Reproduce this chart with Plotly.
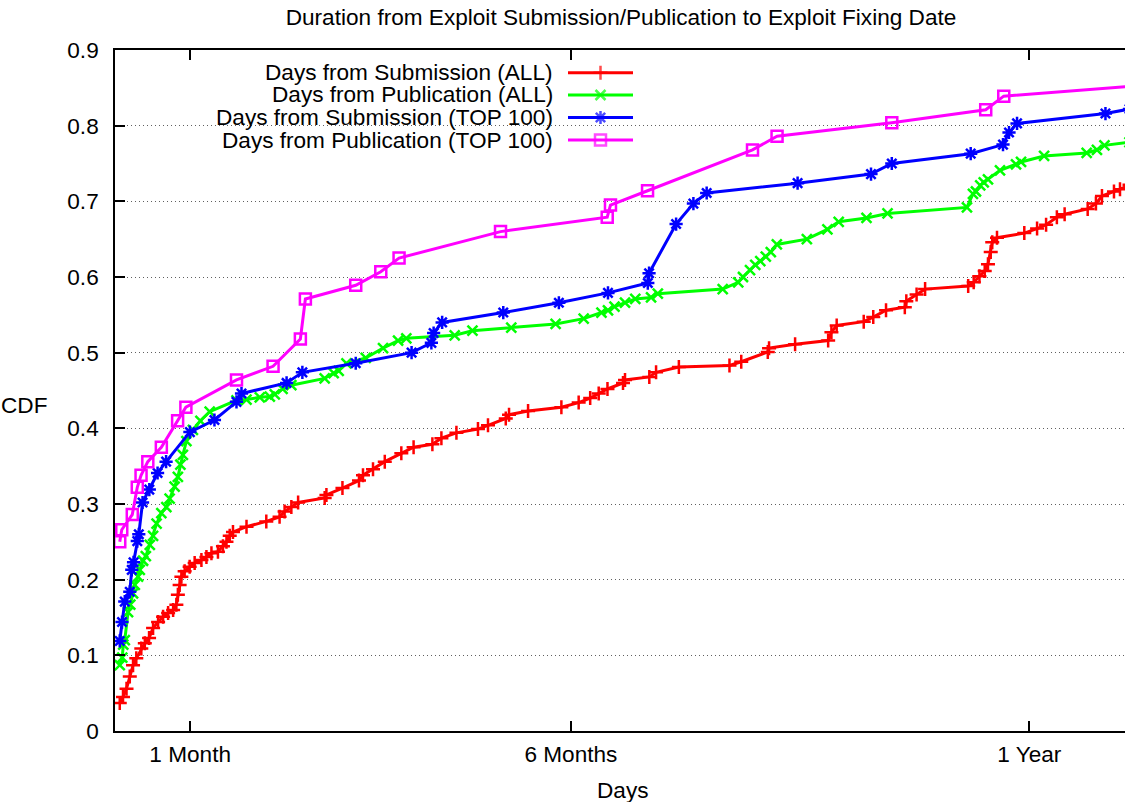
import plotly.graph_objects as go

# ---- data: days until fix vs. cumulative fraction ----
sub_all_days = [1.9, 3.2, 4.6, 5.9, 7.2, 8.5, 10.5, 11.9, 13.6, 15.2,
                17.2, 19.2, 21.2, 23.2, 24.5, 25.1, 25.8, 26.5, 27.8, 29.8,
                31.8, 34.5, 36.5, 38.5, 41.1, 43.1, 44.5, 45.8, 47.1, 52.5,
                60.4, 65.7, 67.7, 70.4, 73.1, 83.7, 84.4, 90.8, 97.4, 99.0,
                103.0, 107.7, 114.3, 119.2, 126.7, 130.3, 136.3, 144.9, 148.9, 156.0,
                157.3, 164.9, 178.2, 185.1, 189.7, 193.1, 196.6, 202.8, 203.6, 213.3,
                216.0, 225.1, 245.3, 250.0, 260.6, 261.1, 271.5, 284.7, 286.0, 288.1,
                298.9, 302.7, 307.8, 315.3, 315.9, 320.0, 323.4, 340.6, 342.8, 345.1,
                347.2, 348.5, 349.6, 350.2, 352.1, 363.0, 368.1, 371.7, 376.0, 379.1,
                388.3, 391.6, 394.0, 398.8, 401.2, 405.0]
sub_all_cdf = [0.037, 0.045, 0.056, 0.072, 0.087, 0.096, 0.109, 0.116, 0.123, 0.136,
               0.144, 0.151, 0.156, 0.160, 0.167, 0.180, 0.193, 0.204, 0.211, 0.217,
               0.222, 0.226, 0.230, 0.235, 0.237, 0.244, 0.250, 0.258, 0.263, 0.270,
               0.277, 0.283, 0.290, 0.296, 0.302, 0.308, 0.312, 0.321, 0.331, 0.338,
               0.346, 0.356, 0.367, 0.375, 0.379, 0.387, 0.394, 0.399, 0.404, 0.413,
               0.418, 0.423, 0.428, 0.434, 0.440, 0.446, 0.452, 0.460, 0.464, 0.468,
               0.474, 0.481, 0.483, 0.488, 0.501, 0.506, 0.511, 0.516, 0.527, 0.536,
               0.541, 0.547, 0.556, 0.560, 0.568, 0.577, 0.584, 0.588, 0.593, 0.601,
               0.608, 0.617, 0.633, 0.646, 0.652, 0.658, 0.664, 0.669, 0.679, 0.683,
               0.690, 0.697, 0.707, 0.713, 0.716, 0.722]

pub_all_days = [1.9, 2.9, 3.3, 3.9, 5.2, 6.1, 7.2, 7.9, 9.2, 9.9,
                11.2, 12.3, 13.9, 15.2, 16.6, 18.5, 20.5, 21.8, 23.8, 25.1,
                26.1, 27.1, 28.5, 31.1, 34.1, 37.8, 48.5, 52.5, 57.8, 61.8,
                63.8, 66.9, 70.4, 83.7, 87.3, 89.3, 92.4, 100.1, 107.0, 113.0,
                116.3, 135.6, 142.7, 158.2, 175.9, 187.1, 194.2, 196.8, 199.4, 203.6,
                207.7, 214.0, 216.7, 242.6, 248.8, 250.7, 253.5, 255.6, 257.6, 259.8,
                261.8, 264.2, 276.2, 284.4, 288.9, 300.0, 308.4, 340.1, 342.5, 343.7,
                345.4, 346.8, 348.5, 353.3, 359.7, 361.7, 370.9, 387.9, 392.0, 395.0,
                405.0]
pub_all_cdf = [0.087, 0.097, 0.114, 0.120, 0.157, 0.167, 0.182, 0.193, 0.204, 0.213,
               0.225, 0.231, 0.246, 0.258, 0.274, 0.288, 0.296, 0.307, 0.323, 0.336,
               0.352, 0.365, 0.383, 0.398, 0.410, 0.422, 0.437, 0.438, 0.441, 0.442,
               0.445, 0.452, 0.457, 0.466, 0.473, 0.476, 0.486, 0.493, 0.506, 0.516,
               0.519, 0.523, 0.529, 0.533, 0.538, 0.545, 0.553, 0.556, 0.561, 0.566,
               0.571, 0.573, 0.578, 0.584, 0.593, 0.600, 0.609, 0.616, 0.621, 0.627,
               0.633, 0.643, 0.650, 0.663, 0.673, 0.678, 0.684, 0.692, 0.710, 0.713,
               0.721, 0.725, 0.729, 0.741, 0.749, 0.752, 0.760, 0.764, 0.768, 0.774,
               0.778]

sub_top_days = [1.9, 2.8, 3.9, 5.9, 6.7, 7.4, 8.9, 9.5, 11.0, 13.7,
                17.0, 20.4, 29.9, 39.7, 48.5, 50.5, 68.5, 74.8, 96.1, 118.4,
                126.3, 127.2, 130.6, 155.0, 177.2, 196.8, 212.7, 213.2, 224.0, 230.9,
                236.2, 272.5, 301.8, 310.1, 341.6, 354.5, 356.9, 360.1, 395.4, 405.0]
sub_top_cdf = [0.119, 0.144, 0.171, 0.184, 0.213, 0.223, 0.251, 0.260, 0.302, 0.319,
               0.341, 0.356, 0.395, 0.411, 0.435, 0.446, 0.460, 0.474, 0.486, 0.500,
               0.513, 0.526, 0.540, 0.553, 0.566, 0.579, 0.592, 0.605, 0.670, 0.697,
               0.711, 0.724, 0.736, 0.750, 0.763, 0.775, 0.791, 0.803, 0.816, 0.822]

pub_top_days = [1.9, 2.7, 6.9, 8.9, 10.4, 13.1, 18.5, 25.0, 28.3, 48.5,
                63.1, 74.0, 76.0, 96.1, 106.1, 113.4, 153.9, 196.5, 197.8, 212.6,
                254.5, 264.3, 310.1, 347.6, 354.8, 410.0]
pub_top_cdf = [0.250, 0.266, 0.286, 0.322, 0.338, 0.356, 0.375, 0.410, 0.428, 0.464,
               0.482, 0.518, 0.571, 0.589, 0.607, 0.625, 0.660, 0.679, 0.695, 0.714,
               0.768, 0.786, 0.804, 0.821, 0.839, 0.853]

series_names = ["Days from Submission (ALL)", "Days from Publication (ALL)",
                "Days from Submission (TOP 100)", "Days from Publication (TOP 100)"]

x_tick_vals = [30, 182, 365]
x_tick_text = ["1 Month", "6 Months", "1 Year"]
y_tick_vals = [0, 0.1, 0.2, 0.3, 0.4, 0.5, 0.6, 0.7, 0.8, 0.9]
y_tick_text = ["0", "0.1", "0.2", "0.3", "0.4", "0.5", "0.6", "0.7", "0.8", "0.9"]

# ---- styling ----
FONT = "Liberation Sans, Arial, Helvetica, sans-serif"
FS = 22.6
W, H = 1125, 802
ML, MR, MT, MB = 115, 0, 50, 71
LW = 3
MLW = 2.5

styles = [
    dict(color="#ff0000", symbol="cross-thin", size=10),
    dict(color="#00ff00", symbol="x-thin", size=10),
    dict(color="#0000ff", symbol="asterisk-open", size=11),
    dict(color="#ff00ff", symbol="square-open", size=11),
]
series = [(sub_all_days, sub_all_cdf), (pub_all_days, pub_all_cdf),
          (sub_top_days, sub_top_cdf), (pub_top_days, pub_top_cdf)]

fig = go.Figure()

for (xs, ys), st, name in zip(series, styles, series_names):
    fig.add_trace(go.Scatter(
        x=xs, y=ys, mode="lines+markers", name=name,
        line=dict(color=st["color"], width=LW),
        marker=dict(symbol=st["symbol"], size=st["size"], color=st["color"],
                    line=dict(color=st["color"], width=MLW)),
        cliponaxis=True, showlegend=False,
    ))

# ---- key (text right-aligned, sample on the right), drawn on a unit overlay ----
pw = W - ML - MR
ph = H - MT - MB
def fx(px):
    return (px - ML) / pw
def fy(py):
    return (H - MB - py) / ph

row_px = [72.7, 95.0, 117.5, 140.0]
for st, name, rpy in zip(styles, series_names, row_px):
    yv = fy(rpy)
    fig.add_trace(go.Scatter(
        x=[fx(568), fx(600.5), fx(633)], y=[yv, yv, yv],
        xaxis="x2", yaxis="y2", mode="lines+markers",
        line=dict(color=st["color"], width=LW),
        marker=dict(symbol=st["symbol"], size=[0, st["size"], 0], color=st["color"],
                    line=dict(color=st["color"], width=MLW)),
        showlegend=False, hoverinfo="skip",
    ))
    fig.add_annotation(xref="paper", yref="paper", x=fx(554), y=yv,
                       xanchor="right", yanchor="middle", text=name, showarrow=False,
                       borderpad=0,
                       font=dict(family=FONT, size=FS, color="black"))

# white key box hiding the grid behind it
fig.add_shape(type="rect", xref="paper", yref="paper",
              x0=0, x1=fx(645), y0=fy(160), y1=1,
              fillcolor="white", line=dict(width=0), layer="between")

# axis labels
fig.add_annotation(xref="paper", yref="paper", x=fx(622), y=fy(790),
                   xanchor="center", yanchor="middle", text="Days", showarrow=False,
                   font=dict(family=FONT, size=FS, color="black"))
fig.add_annotation(xref="paper", yref="paper", x=fx(24), y=fy(405),
                   xanchor="center", yanchor="middle", text="CDF", showarrow=False,
                   font=dict(family=FONT, size=FS, color="black"))

axis_common = dict(ticks="inside", ticklen=10, tickwidth=1.5, tickcolor="black",
                   linecolor="black", linewidth=1.5, zeroline=False,
                   tickfont=dict(family=FONT, size=FS, color="black"))

fig.update_layout(
    width=W, height=H,
    margin=dict(l=ML, r=MR, t=MT, b=MB, pad=0),
    paper_bgcolor="white", plot_bgcolor="white",
    font=dict(family=FONT, size=FS, color="black"),
    showlegend=False,
    title=dict(text="Duration from Exploit Submission/Publication to Exploit Fixing Date",
               x=fx(621), xref="paper", xanchor="center",
               y=1 - 17 / H, yref="container", yanchor="middle",
               font=dict(family=FONT, size=FS, color="black")),
    xaxis=dict(range=[0, 403.2], tickvals=x_tick_vals, ticktext=x_tick_text,
               showline=True, mirror="ticks", showgrid=False,
               ticklabelstandoff=2, **axis_common),
    yaxis=dict(range=[0, 0.9], tickvals=y_tick_vals, ticktext=y_tick_text,
               showline=True, mirror=False, showgrid=True,
               gridcolor="#606060", gridwidth=1, griddash="1px,3px",
               ticklabelstandoff=10, **axis_common),
    yaxis3=dict(range=[0, 0.9], tickvals=y_tick_vals, overlaying="y", side="right",
                anchor="x", showticklabels=False, showline=False, showgrid=False,
                ticks="inside", ticklen=10, tickwidth=1.5, tickcolor="black",
                zeroline=False),
    xaxis2=dict(range=[0, 1], overlaying="x", anchor="y2", visible=False),
    yaxis2=dict(range=[0, 1], overlaying="y", anchor="x2", visible=False),
)

fig.write_html("out.html")
